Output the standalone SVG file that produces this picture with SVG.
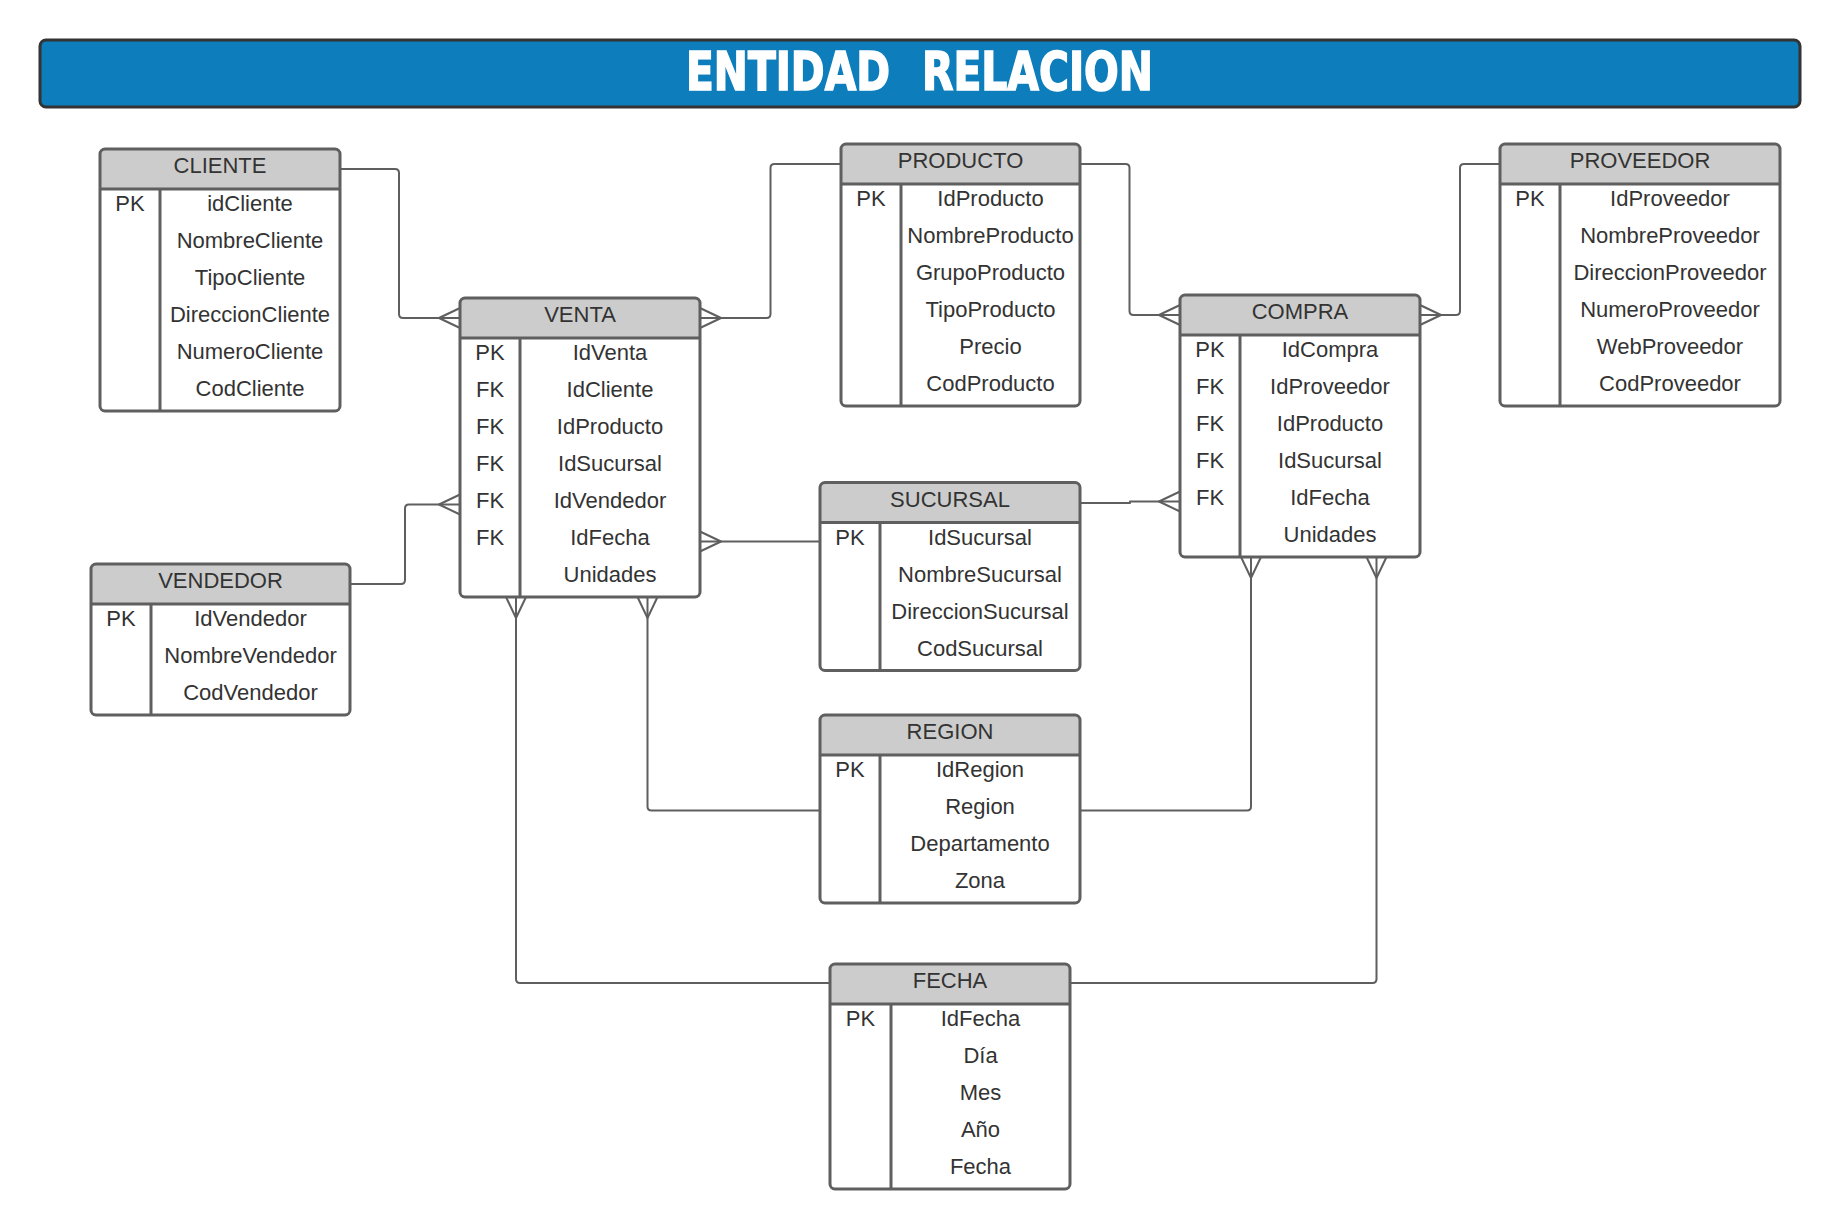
<svg xmlns="http://www.w3.org/2000/svg" width="1840" height="1229" viewBox="0 0 1840 1229">
<style>
.bg{fill:#ffffff}
.hd{fill:#cccccc}
.ol{fill:none;stroke:#5f5f5f;stroke-width:3}
.ln{stroke:#5f5f5f;stroke-width:3}
.t{font-family:"Liberation Sans",Arial,sans-serif;font-size:22px;fill:#333333;text-anchor:middle}
.c{fill:none;stroke:#5f5f5f;stroke-width:2;stroke-linejoin:round}
.title{font-family:"DejaVu Sans Condensed","DejaVu Sans",sans-serif;font-weight:bold;font-size:54px;fill:#ffffff;stroke:#ffffff;stroke-width:1.6}
</style>
<rect x="0" y="0" width="1840" height="1229" fill="#ffffff"/>
<g id="title">
<rect x="40" y="40" width="1760" height="67" rx="6" fill="#0e7dbb" stroke="#333333" stroke-width="3"/>
<text class="title" y="90"><tspan x="686" textLength="204" lengthAdjust="spacingAndGlyphs">ENTIDAD</tspan><tspan x="922" textLength="231" lengthAdjust="spacingAndGlyphs">RELACION</tspan></text>
</g>
<g id="connectors">
<path class="c" d="M340 169 H395 Q399 169 399 173 V314 Q399 318 403 318 H460"/>
<path class="c" d="M460 308 L439 318 L460 328"/>
<path class="c" d="M841 164 H774.5 Q770.5 164 770.5 168 V314 Q770.5 318 766.5 318 H700"/>
<path class="c" d="M700 308 L721 318 L700 328"/>
<path class="c" d="M350 584 H401 Q405 584 405 580 V508.5 Q405 504.5 409 504.5 H460"/>
<path class="c" d="M460 494.5 L439 504.5 L460 514.5"/>
<path class="c" d="M820 541.5 H700"/>
<path class="c" d="M700 531.5 L721 541.5 L700 551.5"/>
<path class="c" d="M1080 164 H1125.5 Q1129.5 164 1129.5 168 V311 Q1129.5 315 1133.5 315 H1180"/>
<path class="c" d="M1180 305 L1159 315 L1180 325"/>
<path class="c" d="M1500 164 H1464 Q1460 164 1460 168 V311 Q1460 315 1456 315 H1420"/>
<path class="c" d="M1420 305 L1441 315 L1420 325"/>
<path class="c" d="M1080 503 H1130 V501.5 H1180"/>
<path class="c" d="M1180 491.5 L1159 501.5 L1180 511.5"/>
<path class="c" d="M516 597 V979 Q516 983 520 983 H830"/>
<path class="c" d="M506 597 L516 618 L526 597"/>
<path class="c" d="M647.5 597 V806.5 Q647.5 810.5 651.5 810.5 H820"/>
<path class="c" d="M637.5 597 L647.5 618 L657.5 597"/>
<path class="c" d="M1251 557 V806.5 Q1251 810.5 1247 810.5 H1080"/>
<path class="c" d="M1241 557 L1251 578 L1261 557"/>
<path class="c" d="M1376.5 557 V979 Q1376.5 983 1372.5 983 H1070"/>
<path class="c" d="M1366.5 557 L1376.5 578 L1386.5 557"/>
</g>
<g id="cliente">
<rect class="bg" x="100" y="149" width="240" height="262" rx="5"/>
<path class="hd" d="M100 189 V154 Q100 149 105 149 H335 Q340 149 340 154 V189 Z"/>
<line class="ln" x1="100" y1="189" x2="340" y2="189"/>
<line class="ln" x1="160" y1="189" x2="160" y2="411"/>
<rect class="ol" x="100" y="149" width="240" height="262" rx="5"/>
<text class="t" x="220" y="173">CLIENTE</text>
<text class="t" x="130" y="211">PK</text>
<text class="t" x="250" y="211">idCliente</text>
<text class="t" x="250" y="248">NombreCliente</text>
<text class="t" x="250" y="285">TipoCliente</text>
<text class="t" x="250" y="322">DireccionCliente</text>
<text class="t" x="250" y="359">NumeroCliente</text>
<text class="t" x="250" y="396">CodCliente</text>
</g>
<g id="venta">
<rect class="bg" x="460" y="298" width="240" height="299" rx="5"/>
<path class="hd" d="M460 338 V303 Q460 298 465 298 H695 Q700 298 700 303 V338 Z"/>
<line class="ln" x1="460" y1="338" x2="700" y2="338"/>
<line class="ln" x1="520" y1="338" x2="520" y2="597"/>
<rect class="ol" x="460" y="298" width="240" height="299" rx="5"/>
<text class="t" x="580" y="322">VENTA</text>
<text class="t" x="490" y="360">PK</text>
<text class="t" x="610" y="360">IdVenta</text>
<text class="t" x="490" y="397">FK</text>
<text class="t" x="610" y="397">IdCliente</text>
<text class="t" x="490" y="434">FK</text>
<text class="t" x="610" y="434">IdProducto</text>
<text class="t" x="490" y="471">FK</text>
<text class="t" x="610" y="471">IdSucursal</text>
<text class="t" x="490" y="508">FK</text>
<text class="t" x="610" y="508">IdVendedor</text>
<text class="t" x="490" y="545">FK</text>
<text class="t" x="610" y="545">IdFecha</text>
<text class="t" x="610" y="582">Unidades</text>
</g>
<g id="vendedor">
<rect class="bg" x="91" y="564" width="259" height="151" rx="5"/>
<path class="hd" d="M91 604 V569 Q91 564 96 564 H345 Q350 564 350 569 V604 Z"/>
<line class="ln" x1="91" y1="604" x2="350" y2="604"/>
<line class="ln" x1="151" y1="604" x2="151" y2="715"/>
<rect class="ol" x="91" y="564" width="259" height="151" rx="5"/>
<text class="t" x="220.5" y="588">VENDEDOR</text>
<text class="t" x="121" y="626">PK</text>
<text class="t" x="250.5" y="626">IdVendedor</text>
<text class="t" x="250.5" y="663">NombreVendedor</text>
<text class="t" x="250.5" y="700">CodVendedor</text>
</g>
<g id="producto">
<rect class="bg" x="841" y="144" width="239" height="262" rx="5"/>
<path class="hd" d="M841 184 V149 Q841 144 846 144 H1075 Q1080 144 1080 149 V184 Z"/>
<line class="ln" x1="841" y1="184" x2="1080" y2="184"/>
<line class="ln" x1="901" y1="184" x2="901" y2="406"/>
<rect class="ol" x="841" y="144" width="239" height="262" rx="5"/>
<text class="t" x="960.5" y="168">PRODUCTO</text>
<text class="t" x="871" y="206">PK</text>
<text class="t" x="990.5" y="206">IdProducto</text>
<text class="t" x="990.5" y="243">NombreProducto</text>
<text class="t" x="990.5" y="280">GrupoProducto</text>
<text class="t" x="990.5" y="317">TipoProducto</text>
<text class="t" x="990.5" y="354">Precio</text>
<text class="t" x="990.5" y="391">CodProducto</text>
</g>
<g id="proveedor">
<rect class="bg" x="1500" y="144" width="280" height="262" rx="5"/>
<path class="hd" d="M1500 184 V149 Q1500 144 1505 144 H1775 Q1780 144 1780 149 V184 Z"/>
<line class="ln" x1="1500" y1="184" x2="1780" y2="184"/>
<line class="ln" x1="1560" y1="184" x2="1560" y2="406"/>
<rect class="ol" x="1500" y="144" width="280" height="262" rx="5"/>
<text class="t" x="1640" y="168">PROVEEDOR</text>
<text class="t" x="1530" y="206">PK</text>
<text class="t" x="1670" y="206">IdProveedor</text>
<text class="t" x="1670" y="243">NombreProveedor</text>
<text class="t" x="1670" y="280">DireccionProveedor</text>
<text class="t" x="1670" y="317">NumeroProveedor</text>
<text class="t" x="1670" y="354">WebProveedor</text>
<text class="t" x="1670" y="391">CodProveedor</text>
</g>
<g id="compra">
<rect class="bg" x="1180" y="295" width="240" height="262" rx="5"/>
<path class="hd" d="M1180 335 V300 Q1180 295 1185 295 H1415 Q1420 295 1420 300 V335 Z"/>
<line class="ln" x1="1180" y1="335" x2="1420" y2="335"/>
<line class="ln" x1="1240" y1="335" x2="1240" y2="557"/>
<rect class="ol" x="1180" y="295" width="240" height="262" rx="5"/>
<text class="t" x="1300" y="319">COMPRA</text>
<text class="t" x="1210" y="357">PK</text>
<text class="t" x="1330" y="357">IdCompra</text>
<text class="t" x="1210" y="394">FK</text>
<text class="t" x="1330" y="394">IdProveedor</text>
<text class="t" x="1210" y="431">FK</text>
<text class="t" x="1330" y="431">IdProducto</text>
<text class="t" x="1210" y="468">FK</text>
<text class="t" x="1330" y="468">IdSucursal</text>
<text class="t" x="1210" y="505">FK</text>
<text class="t" x="1330" y="505">IdFecha</text>
<text class="t" x="1330" y="542">Unidades</text>
</g>
<g id="sucursal">
<rect class="bg" x="820" y="482.5" width="260" height="188" rx="5"/>
<path class="hd" d="M820 522.5 V487.5 Q820 482.5 825 482.5 H1075 Q1080 482.5 1080 487.5 V522.5 Z"/>
<line class="ln" x1="820" y1="522.5" x2="1080" y2="522.5"/>
<line class="ln" x1="880" y1="522.5" x2="880" y2="670.5"/>
<rect class="ol" x="820" y="482.5" width="260" height="188" rx="5"/>
<text class="t" x="950" y="506.5">SUCURSAL</text>
<text class="t" x="850" y="544.5">PK</text>
<text class="t" x="980" y="544.5">IdSucursal</text>
<text class="t" x="980" y="581.5">NombreSucursal</text>
<text class="t" x="980" y="618.5">DireccionSucursal</text>
<text class="t" x="980" y="655.5">CodSucursal</text>
</g>
<g id="region">
<rect class="bg" x="820" y="715" width="260" height="188" rx="5"/>
<path class="hd" d="M820 755 V720 Q820 715 825 715 H1075 Q1080 715 1080 720 V755 Z"/>
<line class="ln" x1="820" y1="755" x2="1080" y2="755"/>
<line class="ln" x1="880" y1="755" x2="880" y2="903"/>
<rect class="ol" x="820" y="715" width="260" height="188" rx="5"/>
<text class="t" x="950" y="739">REGION</text>
<text class="t" x="850" y="777">PK</text>
<text class="t" x="980" y="777">IdRegion</text>
<text class="t" x="980" y="814">Region</text>
<text class="t" x="980" y="851">Departamento</text>
<text class="t" x="980" y="888">Zona</text>
</g>
<g id="fecha">
<rect class="bg" x="830" y="964" width="240" height="225" rx="5"/>
<path class="hd" d="M830 1004 V969 Q830 964 835 964 H1065 Q1070 964 1070 969 V1004 Z"/>
<line class="ln" x1="830" y1="1004" x2="1070" y2="1004"/>
<line class="ln" x1="891" y1="1004" x2="891" y2="1189"/>
<rect class="ol" x="830" y="964" width="240" height="225" rx="5"/>
<text class="t" x="950" y="988">FECHA</text>
<text class="t" x="860.5" y="1026">PK</text>
<text class="t" x="980.5" y="1026">IdFecha</text>
<text class="t" x="980.5" y="1063">Día</text>
<text class="t" x="980.5" y="1100">Mes</text>
<text class="t" x="980.5" y="1137">Año</text>
<text class="t" x="980.5" y="1174">Fecha</text>
</g>
</svg>
